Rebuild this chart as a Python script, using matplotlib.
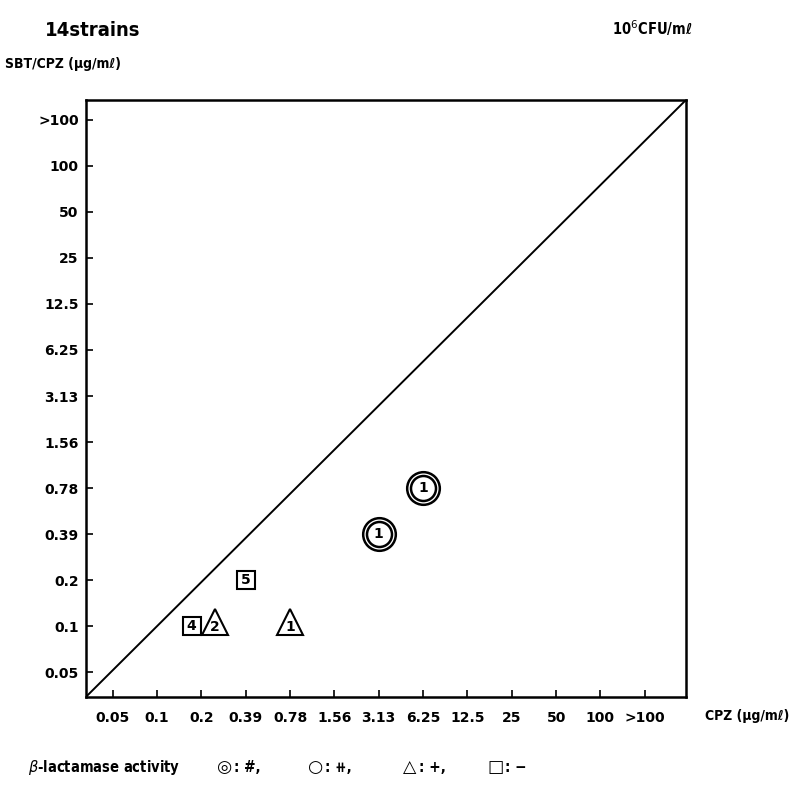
import matplotlib
matplotlib.use('Agg')
import matplotlib.pyplot as plt

# MIC categories (ug/ml), same scale on both axes
x_labels = ['0.05', '0.1', '0.2', '0.39', '0.78', '1.56', '3.13', '6.25',
            '12.5', '25', '50', '100', '>100']
y_labels = ['0.05', '0.1', '0.2', '0.39', '0.78', '1.56', '3.13', '6.25',
            '12.5', '25', '50', '100', '>100']

# strains: CPZ MIC, SBT/CPZ MIC, beta-lactamase symbol, number of strains
pt_cpz = ['6.25', '3.13', '0.39', '0.2', '0.2', '0.78']
pt_sbt = ['0.78', '0.39', '0.2', '0.1', '0.1', '0.1']
pt_kind = ['dcircle', 'dcircle', 'square', 'square', 'triangle', 'triangle']
pt_n = [1, 1, 5, 4, 2, 1]
pt_shift = [0, 0, 0, -0.22, 0.3, 0]   # side by side when sharing a cell

# legend of beta-lactamase activity
leg_sym = ['\u25ce', '\u25cb', '\u25b3', '\u25a1']
leg_txt = [': #,', ': \u29fa,', ': +,', ': \u2212']

plt.rcParams['font.family'] = ['DejaVu Sans']
fig = plt.figure(figsize=(8.08, 8.06), dpi=100)
ax = fig.add_axes([0.106, 0.135, 0.743, 0.741])

ax.set_xlim(-0.61, 12.93)
ax.set_ylim(-0.54, 12.43)

# line of identity, corner to corner
ax.plot([0, 1], [0, 1], transform=ax.transAxes, color='black', lw=1.4)

for cx, cy, kind, n, dx in zip(pt_cpz, pt_sbt, pt_kind, pt_n, pt_shift):
    x = x_labels.index(cx) + dx
    y = y_labels.index(cy)
    if kind == 'dcircle':
        ax.plot(x, y, 'o', ms=23.5, mfc='white', mec='black', mew=1.8)
        ax.plot(x, y, 'o', ms=18, mfc='white', mec='black', mew=1.8)
        ax.text(x, y, str(n), ha='center', va='center', fontsize=10, fontweight='bold')
    elif kind == 'square':
        ax.plot(x, y, 's', ms=13.5, mfc='white', mec='black', mew=1.5)
        ax.text(x, y, str(n), ha='center', va='center', fontsize=10, fontweight='bold')
    else:
        ax.plot(x, y + 0.1, '^', ms=19, mfc='white', mec='black', mew=1.5)
        ax.text(x, y - 0.02, str(n), ha='center', va='center', fontsize=10, fontweight='bold')

ax.set_xticks(range(len(x_labels)))
ax.set_xticklabels(x_labels, fontsize=10, fontweight='bold')
ax.set_yticks(range(len(y_labels)))
ax.set_yticklabels(y_labels, fontsize=10, fontweight='bold')
ax.tick_params(axis='x', direction='in', length=5, width=1.2, pad=10)
ax.tick_params(axis='y', direction='in', length=5, width=1.2, pad=5)
for s in ax.spines.values():
    s.set_linewidth(1.8)

cond = dict(fontweight='bold', fontstretch='condensed')
fig.text(0.056, 0.962, '14strains', fontsize=14.5, va='center', ha='left', **cond)
fig.text(0.857, 0.965, '10$^6$CFU/m\u2113', fontsize=10.5, va='center', ha='right', **cond)
fig.text(0.006, 0.921, 'SBT/CPZ (\u03bcg/m\u2113)', fontsize=10, va='center', ha='left', **cond)
fig.text(0.872, 0.112, 'CPZ (\u03bcg/m\u2113)', fontsize=10, va='center', ha='left', **cond)

fig.text(0.035, 0.048, '$\\beta$-lactamase activity', fontsize=10.5, va='center', ha='left', **cond)
leg_x = [0.278, 0.39, 0.507, 0.613]
for lx, sym, txt in zip(leg_x, leg_sym, leg_txt):
    fig.text(lx, 0.048, sym, fontsize=12.5, va='center', ha='center')
    fig.text(lx + 0.012, 0.048, txt, fontsize=11, va='center', ha='left', **cond)

fig.savefig('out.png', dpi=100)
